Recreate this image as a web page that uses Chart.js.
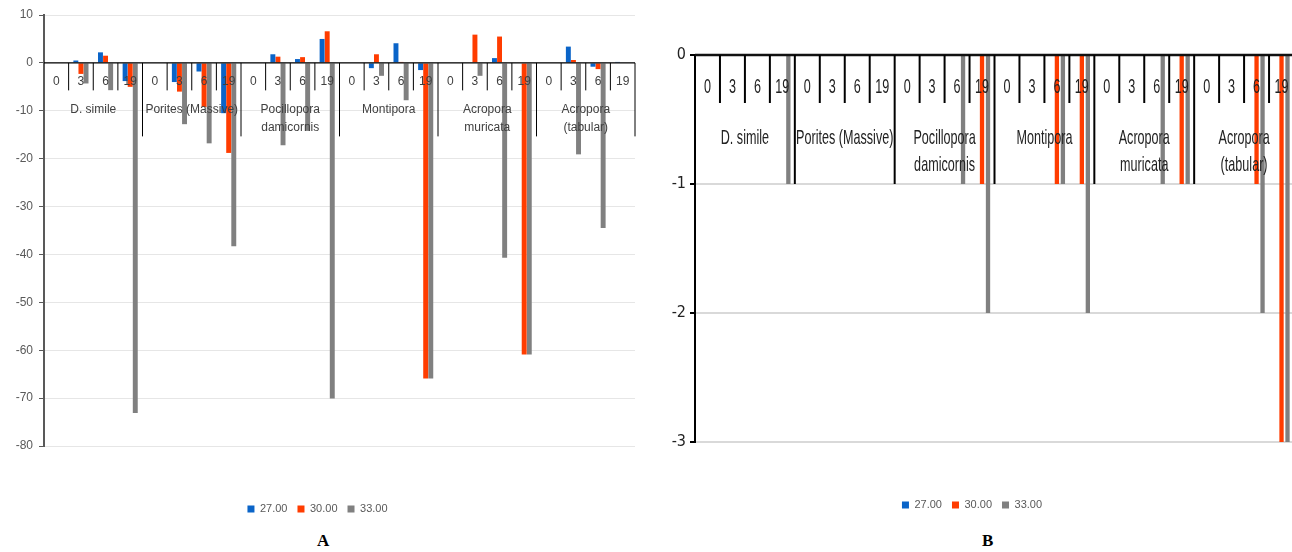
<!DOCTYPE html>
<html>
<head>
<meta charset="utf-8">
<script src="https://cdn.jsdelivr.net/npm/chart.js@4/dist/chart.umd.min.js"></script>
<style>
  html, body { margin: 0; padding: 0; background: #fff; }
  body { width: 1292px; height: 552px; overflow: hidden; position: relative; }
  #wa { position: absolute; left: 0; top: 0; width: 650px; height: 530px; }
  #wb { position: absolute; left: 650px; top: 0; width: 660px; height: 530px; }
  .tag { position: absolute; top: 531px; font: bold 17px "Liberation Serif", "Times New Roman", serif; color: #000; line-height: 20px; }
</style>
</head>
<body>
<div id="wa"><canvas id="ca"></canvas></div>
<div id="wb"><canvas id="cb"></canvas></div>
<div class="tag" style="left:317px">A</div>
<div class="tag" style="left:982px">B</div>

<script>
// Species groups (each label may wrap onto two lines) and sampling times
const species = [
  ['D. simile'],
  ['Porites (Massive)'],
  ['Pocillopora', 'damicornis'],
  ['Montipora'],
  ['Acropora', 'muricata'],
  ['Acropora', '(tabular)']
];
const times = ['0', '3', '6', '19'];
const seriesNames = ['27.00', '30.00', '33.00'];
const seriesColors = ['#0a64c8', '#ff3c00', '#808080'];

// Panel A values, one per species/time category
const a27 = [0, 0.5, 2.2, -3.8,   0, -4.0, -1.8, -10.5,   0, 1.8, 0.8, 5.0,
             0, -1.1, 4.1, -1.5,  0, 0.1, 1.0, 0.1,      0, 3.4, -0.8, 0.2];
const a30 = [0, -2.3, 1.5, -5.0,  0, -6.0, -9.2, -18.8,  0, 1.3, 1.2, 6.6,
             0, 1.8, 0.2, -65.9,  0, 5.9, 5.5, -60.9,    0, 0.6, -1.3, 0];
const a33 = [0, -4.3, -5.7, -73.1, 0, -12.8, -16.8, -38.3, 0, -17.2, -14.2, -70.1,
             0, -2.7, -7.8, -65.9, 0, -2.7, -40.7, -60.9,  0, -19.1, -34.5, 0];

// Panel B values
const b27 = [0, 0, 0, 0,  0, 0, 0, 0,  0, 0, 0, 0,  0, 0, 0, 0,  0, 0, 0, 0,  0, 0, 0, 0];
const b30 = [0, 0, 0, 0,  0, 0, 0, 0,  0, 0, 0, -1, 0, 0, -1, -1, 0, 0, 0, -1, 0, 0, -1, -3];
const b33 = [0, 0, 0, -1, 0, 0, 0, 0,  0, 0, -1, -2, 0, 0, -1, -2, 0, 0, -1, -1, 0, 0, -2, -3];

// y-axis ticks
const aTicks = { min: -80, max: 10, step: 10 };
const bTicks = { min: -3, max: 0, step: 1 };

const categories = species.flatMap(() => times);

// Two-level category axis drawn along the zero line: time ticks, then species groups
function groupAxis(style) {
  return {
    id: 'groupAxis',
    afterDatasetsDraw(chart) {
      const { ctx, chartArea } = chart;
      const x = chart.scales.x, y = chart.scales.y;
      const y0 = y.getPixelForValue(0);
      const n = chart.data.labels.length;
      const per = times.length;
      const half = (x.getPixelForValue(1) - x.getPixelForValue(0)) / 2;
      ctx.save();
      // zero line
      ctx.strokeStyle = style.axisColor;
      ctx.lineWidth = style.axisWidth;
      ctx.beginPath();
      ctx.moveTo(chartArea.left, y0);
      ctx.lineTo(chartArea.right, y0);
      ctx.stroke();
      // category separators
      ctx.strokeStyle = style.lineColor;
      ctx.lineWidth = style.lineWidth;
      for (let i = 1; i <= n; i++) {
        const bx = i < n ? x.getPixelForValue(i) - half : x.getPixelForValue(n - 1) + half;
        const len = i % per === 0 ? style.groupLen : style.tickLen;
        ctx.beginPath();
        ctx.moveTo(bx, y0);
        ctx.lineTo(bx, y0 + len);
        ctx.stroke();
      }
      // labels
      ctx.fillStyle = style.textColor;
      ctx.font = style.font;
      ctx.textAlign = 'center';
      ctx.textBaseline = 'middle';
      const put = (t, cx, cy) => {
        ctx.save();
        ctx.translate(cx, cy);
        ctx.scale(style.sx, 1);
        ctx.fillText(t, 0, 0);
        ctx.restore();
      };
      chart.data.labels.forEach((lab, i) => put(lab, x.getPixelForValue(i), y0 + style.tickLabelOffset));
      species.forEach((lines, g) => {
        const cx = (x.getPixelForValue(g * per) + x.getPixelForValue(g * per + per - 1)) / 2;
        lines.forEach((t, k) => put(t, cx, y0 + style.groupLabelOffset + k * style.lineGap));
      });
      ctx.restore();
    }
  };
}

function makeDatasets(values, cp, bp) {
  return values.map((v, i) => ({
    label: seriesNames[i],
    data: v,
    backgroundColor: seriesColors[i],
    borderWidth: 0,
    categoryPercentage: cp,
    barPercentage: bp
  }));
}

const sans = '"Liberation Sans", Arial, sans-serif';
const narrow = '"Liberation Sans Narrow", "DejaVu Sans Condensed", "Liberation Sans", sans-serif';

// Panel A
new Chart(document.getElementById('ca'), {
  type: 'bar',
  data: { labels: categories, datasets: makeDatasets([a27, a30, a33], 0.62, 0.97) },
  options: {
    responsive: true,
    maintainAspectRatio: false,
    animation: false,
    layout: { padding: { top: 15, right: 15, bottom: 5.5, left: 0 } },
    scales: {
      x: {
        display: true,
        ticks: { display: false },
        grid: { display: false },
        border: { display: false },
        afterFit: s => { s.height = 47.5; }
      },
      y: {
        min: aTicks.min, max: aTicks.max,
        ticks: { stepSize: aTicks.step, color: '#595959', padding: 6, font: { family: sans, size: 12 } },
        grid: { color: '#e6e6e6', lineWidth: 1, tickLength: 5, tickColor: '#595959' },
        border: { color: '#595959', width: 2 },
        afterFit: s => { s.width = 44; }
      }
    },
    plugins: {
      legend: {
        position: 'bottom',
        labels: { boxWidth: 7, boxHeight: 7, padding: 10, color: '#595959', font: { family: sans, size: 11 } }
      },
      tooltip: { enabled: false }
    }
  },
  plugins: [groupAxis({
    axisColor: '#000', axisWidth: 1.2,
    lineColor: '#000', lineWidth: 1,
    tickLen: 27.5, groupLen: 73.5,
    textColor: '#404040', font: '12px ' + sans, sx: 1,
    tickLabelOffset: 18.5, groupLabelOffset: 47, lineGap: 17.7
  })]
});

// Panel B
new Chart(document.getElementById('cb'), {
  type: 'bar',
  data: { labels: categories, datasets: makeDatasets([b27, b30, b33], 0.72, 0.72) },
  options: {
    responsive: true,
    maintainAspectRatio: false,
    animation: false,
    layout: { padding: { top: 55, right: 16, bottom: 9.5, left: 0 } },
    scales: {
      x: {
        display: true,
        ticks: { display: false },
        grid: { display: false },
        border: { display: false },
        afterFit: s => { s.height = 47.5; }
      },
      y: {
        min: bTicks.min, max: bTicks.max,
        ticks: { stepSize: bTicks.step, color: '#222', padding: 4, font: { family: narrow, size: 16 } },
        grid: { color: '#d9d9d9', lineWidth: 2, tickLength: 5, tickColor: '#000' },
        border: { color: '#000', width: 2 },
        afterFit: s => { s.width = 45; }
      }
    },
    plugins: {
      legend: {
        position: 'bottom',
        labels: { boxWidth: 7, boxHeight: 7, padding: 10, color: '#595959', font: { family: sans, size: 11 } }
      },
      tooltip: { enabled: false }
    }
  },
  plugins: [groupAxis({
    axisColor: '#111', axisWidth: 2.5,
    lineColor: '#000', lineWidth: 2,
    tickLen: 48, groupLen: 129,
    textColor: '#222', font: '21px ' + sans, sx: 0.6,
    tickLabelOffset: 32.5, groupLabelOffset: 83, lineGap: 27.5
  })]
});
</script>
</body>
</html>
